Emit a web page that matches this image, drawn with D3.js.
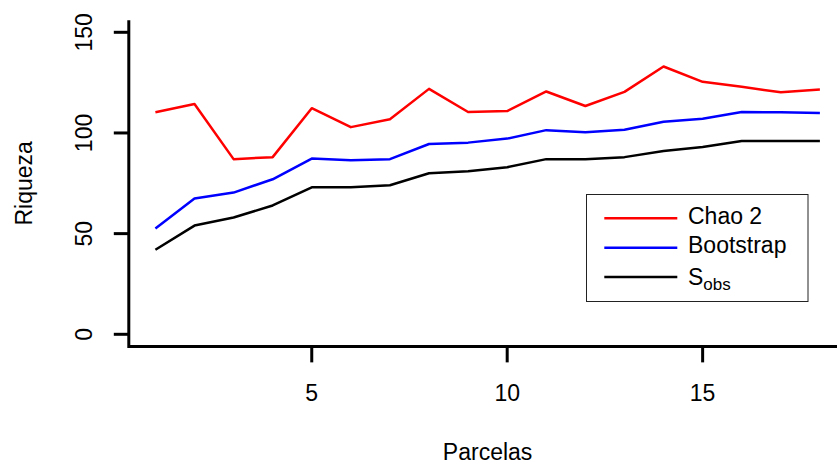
<!DOCTYPE html>
<html>
<head>
<meta charset="utf-8">
<script src="https://cdn.jsdelivr.net/npm/d3@7"></script>
<style>
  html, body { margin: 0; padding: 0; background: #fff; }
  svg text { font-family: "Liberation Sans", Arial, Helvetica, sans-serif; fill: #000; }
</style>
</head>
<body>
<svg id="chart" width="837" height="464"></svg>
<script>
const parcelas = [1,2,3,4,5,6,7,8,9,10,11,12,13,14,15,16,17,18];
const chao2 = [110.3,114.4,87,88,112.3,102.9,106.8,121.9,110.4,110.9,120.6,113.4,120.4,133,125.4,122.9,120.2,121.6];
const bootstrap = [52.6,67.4,70.4,77,87.3,86.5,87,94.5,95.2,97.2,101.4,100.3,101.6,105.6,107.1,110.4,110.3,109.9];
const sobs = [42,54,58,64,73,73,74,80,81,83,87,87,88,91,93,96,96,96];
const xTicks = [5,10,15];
const yTicks = [0,50,100,150];
const seriesNames = ["Chao 2","Bootstrap","S"];
const seriesColors = ["#ff0000","#0000ff","#000000"];

const svg = d3.select("#chart");
const FS = 23;

const x = d3.scaleLinear().domain([1,18]).range([155.4, 819.9]);
const y = d3.scaleLinear().domain([0,150]).range([334.3, 32.3]);

// box (bty="l")
const xLo = x.invert(128.8), yLo = -6, yHi = 156;
svg.append("line")
  .attr("x1", x(xLo)).attr("x2", 837)
  .attr("y1", y(yLo)).attr("y2", y(yLo))
  .attr("stroke","#000").attr("stroke-width",3);
svg.append("line")
  .attr("x1", x(xLo)).attr("x2", x(xLo))
  .attr("y1", y(yLo)+1.5).attr("y2", y(yHi))
  .attr("stroke","#000").attr("stroke-width",3);

// x ticks
const gx = svg.append("g");
xTicks.forEach(t => {
  gx.append("line").attr("x1", x(t)).attr("x2", x(t))
    .attr("y1", y(yLo)).attr("y2", y(yLo)+16)
    .attr("stroke","#000").attr("stroke-width",3);
  gx.append("text").attr("x", x(t)).attr("y", 400.5)
    .attr("text-anchor","middle").attr("font-size",FS).text(t);
});

// y ticks
const gy = svg.append("g");
yTicks.forEach(t => {
  gy.append("line").attr("x1", x(xLo)-15).attr("x2", x(xLo))
    .attr("y1", y(t)).attr("y2", y(t))
    .attr("stroke","#000").attr("stroke-width",3);
  gy.append("text")
    .attr("transform", `translate(92,${y(t)}) rotate(-90)`)
    .attr("text-anchor","middle").attr("font-size",FS).text(t);
});

// axis titles
svg.append("text").attr("x", 487.6).attr("y", 459.5)
  .attr("text-anchor","middle").attr("font-size",FS).text("Parcelas");
svg.append("text")
  .attr("transform", `translate(32,${y(75)}) rotate(-90)`)
  .attr("text-anchor","middle").attr("font-size",FS).text("Riqueza");

// lines
const line = d3.line().x((d,i) => x(parcelas[i])).y(d => y(d));
[chao2, bootstrap, sobs].forEach((s, k) => {
  svg.append("path").datum(s)
    .attr("d", line)
    .attr("fill","none")
    .attr("stroke", seriesColors[k])
    .attr("stroke-width", 2.5)
    .attr("stroke-linejoin","round");
});

// legend
const lg = svg.append("g");
lg.append("rect").attr("x", 586.5).attr("y", 194.5).attr("width", 221.5).attr("height", 107)
  .attr("fill","#fff").attr("stroke","#222").attr("stroke-width",1);
const ly = [218.3, 247.7, 277];
seriesNames.forEach((n, k) => {
  lg.append("line").attr("x1", 604.3).attr("x2", 677.3)
    .attr("y1", ly[k]).attr("y2", ly[k])
    .attr("stroke", seriesColors[k]).attr("stroke-width", 2.5);
  const t = lg.append("text").attr("x", 688).attr("y", ly[k] + 5.5 + (k===2 ? 2.7 : 0))
    .attr("font-size", FS);
  t.append("tspan").text(n);
  if (k === 2) {
    t.append("tspan").attr("font-size", 17).attr("dy", 5).text("obs");
  }
});
</script>
</body>
</html>
